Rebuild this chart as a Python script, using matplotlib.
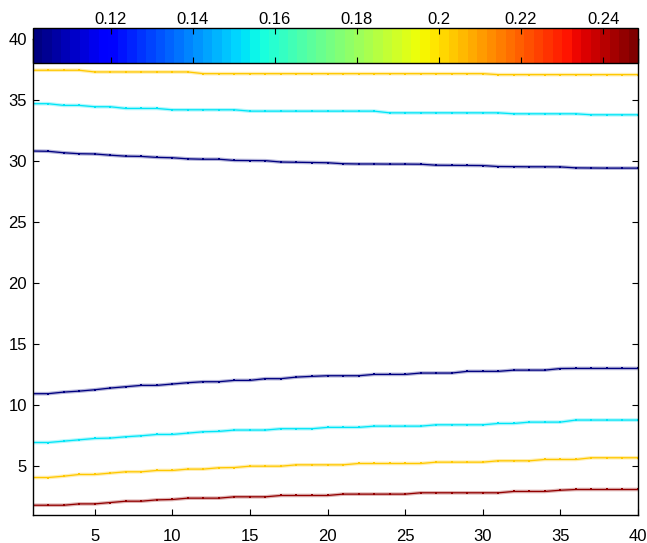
import numpy as np
import matplotlib
matplotlib.use("Agg")
import matplotlib.pyplot as plt
from matplotlib.colors import Normalize
from matplotlib.colorbar import ColorbarBase

plt.rcParams['font.family'] = ['Liberation Sans', 'DejaVu Sans']

x = np.arange(1, 41)

# contour level of each traced line (same scale as the colorbar)
levels = [0.246, 0.203, 0.152, 0.103, 0.103, 0.152, 0.203]

# traced iso-lines, one y value per grid column
red_low = [1.80, 1.80, 1.80, 1.91, 1.91, 2.02, 2.13, 2.13, 2.24, 2.27,
           2.38, 2.38, 2.38, 2.49, 2.49, 2.49, 2.60, 2.60, 2.60, 2.60,
           2.71, 2.71, 2.71, 2.71, 2.71, 2.82, 2.82, 2.82, 2.82, 2.82,
           2.82, 2.93, 2.93, 2.93, 3.03, 3.09, 3.09, 3.09, 3.09, 3.09]
yellow_low = [4.07, 4.07, 4.18, 4.32, 4.32, 4.43, 4.54, 4.54, 4.65, 4.65,
              4.76, 4.76, 4.87, 4.89, 5.00, 5.00, 5.00, 5.11, 5.11, 5.11,
              5.11, 5.22, 5.22, 5.22, 5.22, 5.22, 5.33, 5.33, 5.33, 5.33,
              5.44, 5.44, 5.44, 5.55, 5.55, 5.55, 5.69, 5.69, 5.69, 5.69]
cyan_low = [6.94, 6.94, 7.05, 7.16, 7.27, 7.30, 7.41, 7.49, 7.60, 7.60,
            7.71, 7.82, 7.85, 7.96, 7.96, 7.96, 8.07, 8.07, 8.07, 8.18,
            8.18, 8.18, 8.28, 8.28, 8.28, 8.28, 8.39, 8.39, 8.39, 8.39,
            8.50, 8.50, 8.61, 8.61, 8.61, 8.78, 8.78, 8.78, 8.78, 8.78]
blue_low = [10.94, 10.94, 11.07, 11.15, 11.26, 11.40, 11.51, 11.62, 11.62, 11.73,
            11.84, 11.92, 11.92, 12.03, 12.03, 12.17, 12.17, 12.30, 12.36, 12.41,
            12.41, 12.41, 12.52, 12.52, 12.52, 12.63, 12.63, 12.63, 12.77, 12.77,
            12.77, 12.87, 12.87, 12.87, 13.00, 13.01, 13.01, 13.01, 13.01, 13.01]
blue_high = [30.82, 30.80, 30.68, 30.60, 30.58, 30.48, 30.40, 30.38, 30.30, 30.27,
             30.18, 30.15, 30.15, 30.05, 30.04, 30.03, 29.92, 29.90, 29.88, 29.86,
             29.78, 29.76, 29.76, 29.75, 29.75, 29.74, 29.66, 29.65, 29.64, 29.63,
             29.55, 29.54, 29.53, 29.53, 29.52, 29.44, 29.43, 29.42, 29.42, 29.42]
cyan_high = [34.70, 34.70, 34.56, 34.56, 34.45, 34.45, 34.31, 34.31, 34.31, 34.20,
             34.20, 34.20, 34.20, 34.20, 34.09, 34.09, 34.09, 34.09, 34.09, 34.09,
             34.09, 34.09, 34.09, 33.95, 33.95, 33.95, 33.95, 33.95, 33.95, 33.95,
             33.95, 33.87, 33.87, 33.87, 33.87, 33.87, 33.79, 33.79, 33.79, 33.79]
yellow_high = [37.44, 37.44, 37.44, 37.44, 37.30, 37.30, 37.30, 37.30, 37.30, 37.30,
               37.30, 37.16, 37.16, 37.16, 37.16, 37.16, 37.16, 37.16, 37.16, 37.16,
               37.16, 37.16, 37.16, 37.16, 37.16, 37.16, 37.16, 37.16, 37.16, 37.16,
               37.08, 37.08, 37.08, 37.08, 37.08, 37.08, 37.08, 37.08, 37.08, 37.08]

lines = [red_low, yellow_low, cyan_low, blue_low, blue_high, cyan_high, yellow_high]

cbar_ticks = [0.12, 0.14, 0.16, 0.18, 0.2, 0.22, 0.24]
cbar_labels = ['0.12', '0.14', '0.16', '0.18', '0.2', '0.22', '0.24']
cmin, cmax = 0.101, 0.2485

cmap = plt.get_cmap('jet', 64)
norm = Normalize(vmin=cmin, vmax=cmax)

W, H = 647, 543
fig = plt.figure(figsize=(W / 100, H / 100), dpi=100)

ax = fig.add_axes([32.6 / W, 1 - 515 / H, (638 - 32.6) / W, (515 - 39) / H])
for ys, lev in zip(lines, levels):
    c = cmap(norm(lev))
    ax.plot(x, ys, color=c, lw=2.6, alpha=0.3, solid_capstyle='butt')
    ax.plot(x, ys, color=c, lw=0.9, marker='s', ms=1.8, mew=0)

ax.set_xlim(1, 40)
ax.set_ylim(1, 40)
ax.set_xticks(range(5, 41, 5))
ax.set_yticks(range(5, 41, 5))
ax.tick_params(direction='in', length=4, width=0.8, top=True, right=True,
               labelsize=12, colors='black')
ax.tick_params(axis='x', pad=10)
ax.tick_params(axis='y', pad=4)
for s in ax.spines.values():
    s.set_linewidth(1.0)

cax = fig.add_axes([32.6 / W, 1 - 63 / H, (638 - 32.6) / W, 35 / H])
cb = ColorbarBase(cax, cmap=cmap, norm=norm, orientation='horizontal', ticks=cbar_ticks)
cb.set_ticklabels(cbar_labels)
cb.outline.set_linewidth(1.0)
cax.tick_params(direction='in', length=4, width=0.8, top=True, bottom=True,
                labeltop=True, labelbottom=False, labelsize=12, pad=1)

fig.savefig('out.png', dpi=100)
